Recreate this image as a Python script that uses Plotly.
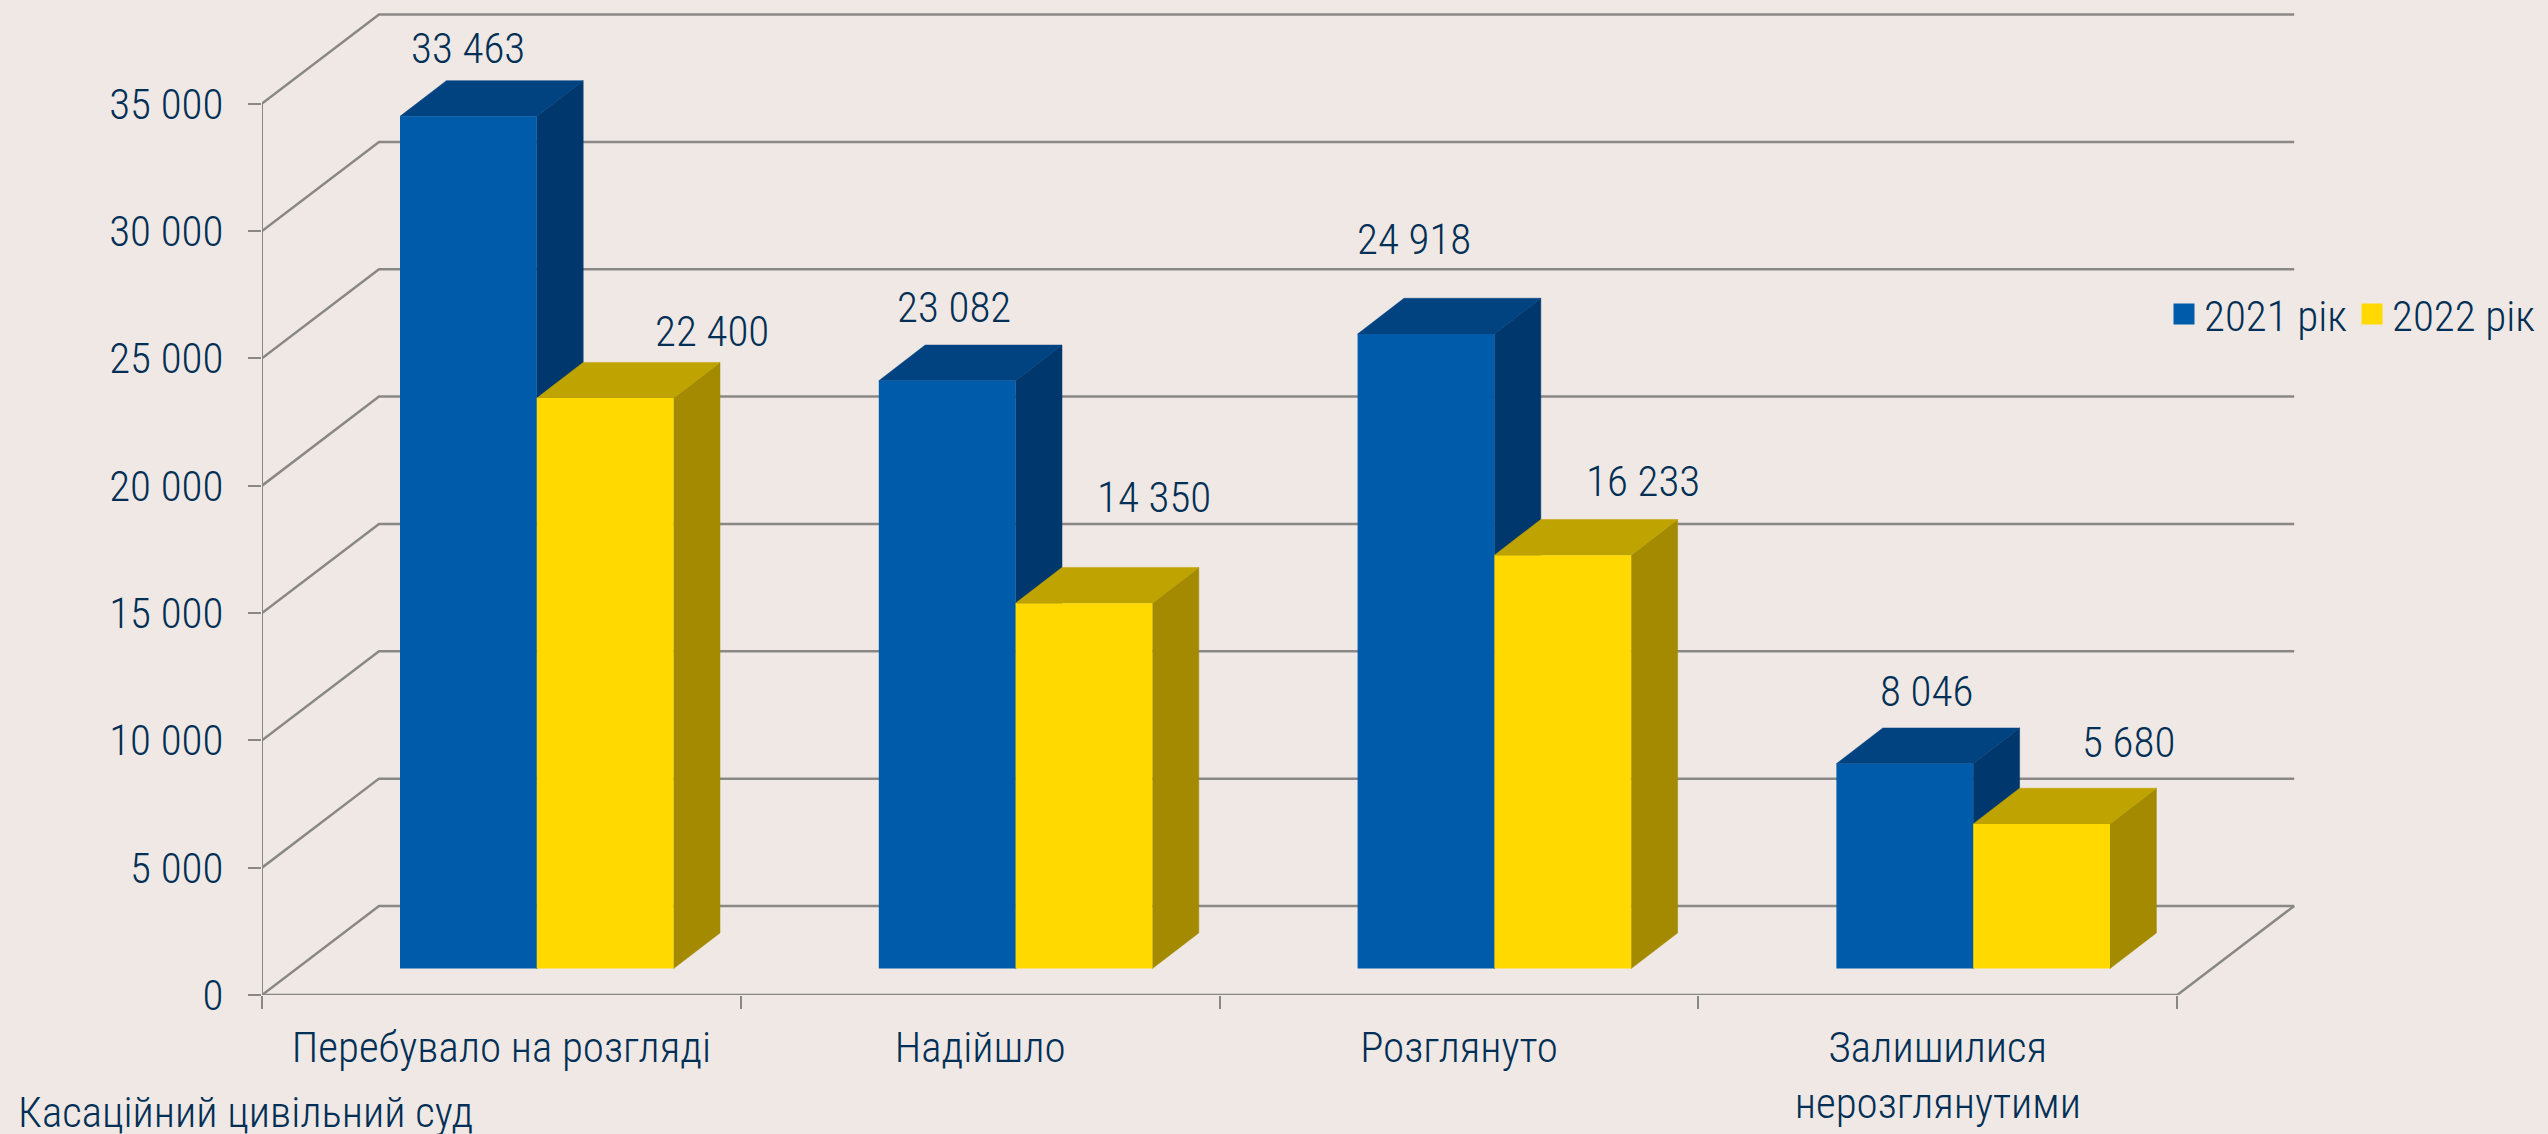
import plotly.graph_objects as go

categories = ["Перебувало на розгляді", "Надійшло", "Розглянуто", "Залишилися<br>нерозглянутими"]
series_names = ["2021 рік", "2022 рік"]
values_2021 = [33463, 23082, 24918, 8046]
values_2022 = [22400, 14350, 16233, 5680]
y_ticks = [0, 5000, 10000, 15000, 20000, 25000, 30000, 35000]
y_tick_labels = ["0", "5 000", "10 000", "15 000", "20 000", "25 000", "30 000", "35 000"]
footer = "Касаційний цивільний суд"

# --- layout geometry, px of the page ---
W, H = 2548, 1134
L, R, T, B = 262, 2300, 10, 994.7
CAT_PX = 478.8
Y_PX = 127.3 / 5000
XMAX = (R - L) / CAT_PX
YMAX = (B - T) / Y_PX

WALL_DX = 117 / CAT_PX
WALL_DY = 89 / Y_PX
BAR_BASE = 26.4 / Y_PX
BAR_LEFT = 138 / CAT_PX
BAR_W = 136.8 / CAT_PX
BAR_DX = 46.4 / CAT_PX
BAR_DY = 35.7 / Y_PX

BG = "#EFE8E4"
INK = "#012F55"
GRID = "#8A8885"
FONT = dict(family="Roboto Condensed, Liberation Sans Narrow, Roboto", size=43, color=INK, weight=300)

label_dx = [[0, 7, -12, 22], [107, 70, 80, 87]]
label_dy = [[68, 74, 95, 73], [67, 106, 74, 82]]

fig = go.Figure()


def line(xs, ys, width):
    fig.add_trace(go.Scatter(x=xs, y=ys, mode="lines", showlegend=False, hoverinfo="skip",
                             cliponaxis=False, line=dict(color=GRID, width=width)))


for t in y_ticks:
    line([0, WALL_DX, 4 + WALL_DX], [t, t + WALL_DY, t + WALL_DY], 2.5)
line([0, 0], [0, y_ticks[-1]], 2)
line([0, 4, 4 + WALL_DX], [0, 0, WALL_DY], 2.5)


def faces(offset, vals, top_col, side_col):
    tx, ty, sx, sy = [], [], [], []
    for i, v in enumerate(vals):
        x0 = i + BAR_LEFT + offset * BAR_W
        x1 = x0 + BAR_W
        h = v + BAR_BASE
        tx += [x0, x1, x1 + BAR_DX, x0 + BAR_DX, x0, None]
        ty += [h, h, h + BAR_DY, h + BAR_DY, h, None]
        sx += [x1, x1, x1 + BAR_DX, x1 + BAR_DX, x1, None]
        sy += [BAR_BASE, h, h + BAR_DY, BAR_BASE + BAR_DY, BAR_BASE, None]
    for xs, ys, col in ((sx, sy, side_col), (tx, ty, top_col)):
        fig.add_trace(go.Scatter(x=xs, y=ys, mode="lines", fill="toself", fillcolor=col,
                                 line=dict(color=col, width=0.5), showlegend=False,
                                 hoverinfo="skip", cliponaxis=False))


faces(0, values_2021, "#004380", "#00376C")
faces(1, values_2022, "#BFA300", "#A38A00")

for k, (name, vals, col) in enumerate(((series_names[0], values_2021, "#005BAA"),
                                       (series_names[1], values_2022, "#FFD900"))):
    fig.add_trace(go.Bar(x=[i + BAR_LEFT + (k + 0.5) * BAR_W for i in range(4)], y=vals,
                         base=[BAR_BASE] * 4, width=BAR_W, marker=dict(color=col, line=dict(width=0)),
                         xaxis="x2", yaxis="y2", showlegend=False, name=name))
    fig.add_trace(go.Scatter(x=[None], y=[None], mode="markers", name=name,
                             marker=dict(symbol="square", size=16, color=col,
                                         line=dict(color=col, width=5))))
    for i, v in enumerate(vals):
        fig.add_annotation(x=i + BAR_LEFT + (k + 0.5) * BAR_W, y=v + BAR_BASE,
                           text=f"{v:,}".replace(",", " "), showarrow=False,
                           xshift=label_dx[k][i], yshift=label_dy[k][i],
                           xanchor="center", yanchor="middle", font=FONT)

fig.add_annotation(xref="paper", yref="paper", x=-246 / (R - L), y=(B - 1112) / (B - T), xanchor="left",
                   yanchor="middle", text=footer, showarrow=False, font=FONT)

fig.update_layout(
    width=W, height=H, paper_bgcolor=BG, plot_bgcolor=BG, barmode="overlay",
    margin=dict(l=L, r=W - R, t=T, b=H - B, pad=0, autoexpand=False),
    font=FONT, showlegend=True,
    legend=dict(orientation="h", x=(2164 - L) / (R - L), xanchor="left", y=(B - 314) / (B - T), yanchor="middle",
                bgcolor="rgba(0,0,0,0)", font=FONT, itemsizing="trace"),
    xaxis=dict(range=[0, XMAX], showgrid=False, zeroline=False, showline=False,
               tickvals=[i + 0.5 for i in range(4)], ticktext=categories, ticks="",
               ticklabelstandoff=23, tickfont=FONT,
               minor=dict(tickvals=list(range(5)), ticks="outside", ticklen=13, tickwidth=2,
                          tickcolor=GRID, showgrid=False)),
    yaxis=dict(range=[0, YMAX], showgrid=False, zeroline=False, showline=False,
               tickvals=y_ticks, ticktext=y_tick_labels, ticks="outside", ticklen=13, tickwidth=2,
               tickcolor=GRID, ticklabelstandoff=16, tickfont=FONT),
    xaxis2=dict(range=[0, XMAX], overlaying="x", visible=False),
    yaxis2=dict(range=[0, YMAX], overlaying="y", visible=False),
)

fig.write_html("out.html", config={"displayModeBar": False},
               post_script=f"document.body.style.margin='0';document.body.style.background='{BG}';")
